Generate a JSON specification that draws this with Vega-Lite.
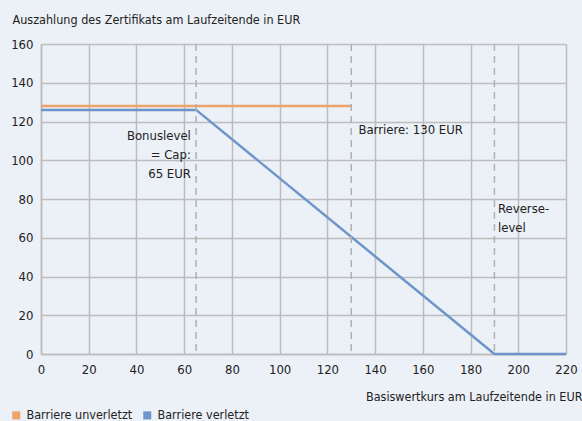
{
  "$schema": "https://vega.github.io/schema/vega-lite/v6.json",
  "autosize": "none",
  "width": 525,
  "height": 310,
  "padding": {"left": 41, "right": 16, "top": 44, "bottom": 67},
  "background": "#ecf0f7",
  "config": {
    "view": {"stroke": null},
    "font": "DejaVu Sans Condensed",
    "axis": {"labelFont": "DejaVu Sans Condensed", "titleFont": "DejaVu Sans Condensed", "labelColor": "#222", "titleColor": "#222", "labelFontSize": 13, "titleFontSize": 12.5, "titleFontWeight": "normal", "gridColor": "#bdbdbd", "gridWidth": 1.5, "domainColor": "#bdbdbd", "domainWidth": 1.5, "ticks": false, "labelFlush": false},
    "axisY": {"grid": true, "gridColor": "#bdbdbd", "gridWidth": 1.5, "gridOpacity": 1}
  },
  "datasets": {
    "lines": [
      {"kurs": 0, "wert": 128, "series": "Barriere unverletzt"},
      {"kurs": 130, "wert": 128, "series": "Barriere unverletzt"},
      {"kurs": 0, "wert": 126, "series": "Barriere verletzt"},
      {"kurs": 65, "wert": 126, "series": "Barriere verletzt"},
      {"kurs": 190, "wert": 0, "series": "Barriere verletzt"},
      {"kurs": 220, "wert": 0, "series": "Barriere verletzt"}
    ],
    "rules": [{"kurs": 65}, {"kurs": 130}, {"kurs": 190}],
    "notesRight": [
      {"kurs": 62.8, "wert": 115.5, "label": ["Bonuslevel", "= Cap:", "65 EUR"]}
    ],
    "notesLeft": [
      {"kurs": 133, "wert": 118.5, "label": ["Barriere: 130 EUR"]},
      {"kurs": 191.5, "wert": 78, "label": ["Reverse-", "level"]}
    ]
  },
  "layer": [
    {
      "data": {"name": "lines"},
      "mark": {"type": "line", "strokeWidth": 2.5},
      "encoding": {
        "x": {"field": "kurs", "type": "quantitative", "scale": {"domain": [0, 220], "nice": false},
          "axis": {"values": [0,20,40,60,80,100,120,140,160,180,200,220], "labelFlush": false, "labelPadding": 9, "title": "Basiswertkurs am Laufzeitende in EUR", "titleAnchor": "end", "titleAlign": "right", "titleX": 541, "titleY": 46, "titleBaseline": "alphabetic"}},
        "y": {"field": "wert", "type": "quantitative", "scale": {"domain": [0, 160], "nice": false},
          "axis": {"tickCount": 8, "labelPadding": 8, "labelOverlap": false, "title": "Auszahlung des Zertifikats am Laufzeitende in EUR", "titleAngle": 0, "titleAlign": "left", "titleX": -29, "titleY": -21, "titleBaseline": "alphabetic"}},
        "color": {"field": "series", "type": "nominal",
          "scale": {"domain": ["Barriere unverletzt", "Barriere verletzt"], "range": ["#eca46b", "#6d95c9"]},
          "legend": {"title": null, "orient": "none", "direction": "horizontal", "legendX": -31, "legendY": 365, "symbolType": "square", "symbolSize": 64, "symbolStrokeWidth": 0, "labelFont": "DejaVu Sans Condensed", "labelFontSize": 12.5, "labelColor": "#222", "columnPadding": 8, "labelOffset": 4,
            "encode": {"symbols": {"update": {"fill": {"scale": "color", "field": "value"}, "fillOpacity": {"value": 1}}}}}},
        "detail": {"field": "series"}
      }
    },
    {
      "data": {"name": "rules"},
      "mark": {"type": "rule", "color": "#b0b0b0", "strokeWidth": 1.5, "strokeDash": [7, 5]},
      "encoding": {
        "x": {"field": "kurs", "type": "quantitative"}
      }
    },
    {
      "data": {"name": "notesRight"},
      "mark": {"type": "text", "fontSize": 13, "baseline": "top", "align": "right", "lineHeight": 19, "color": "#222"},
      "encoding": {
        "x": {"field": "kurs", "type": "quantitative"},
        "y": {"field": "wert", "type": "quantitative"},
        "text": {"field": "label"}
      }
    },
    {
      "data": {"name": "notesLeft"},
      "mark": {"type": "text", "fontSize": 13, "baseline": "top", "align": "left", "lineHeight": 19, "color": "#222"},
      "encoding": {
        "x": {"field": "kurs", "type": "quantitative"},
        "y": {"field": "wert", "type": "quantitative"},
        "text": {"field": "label"}
      }
    }
  ]
}
